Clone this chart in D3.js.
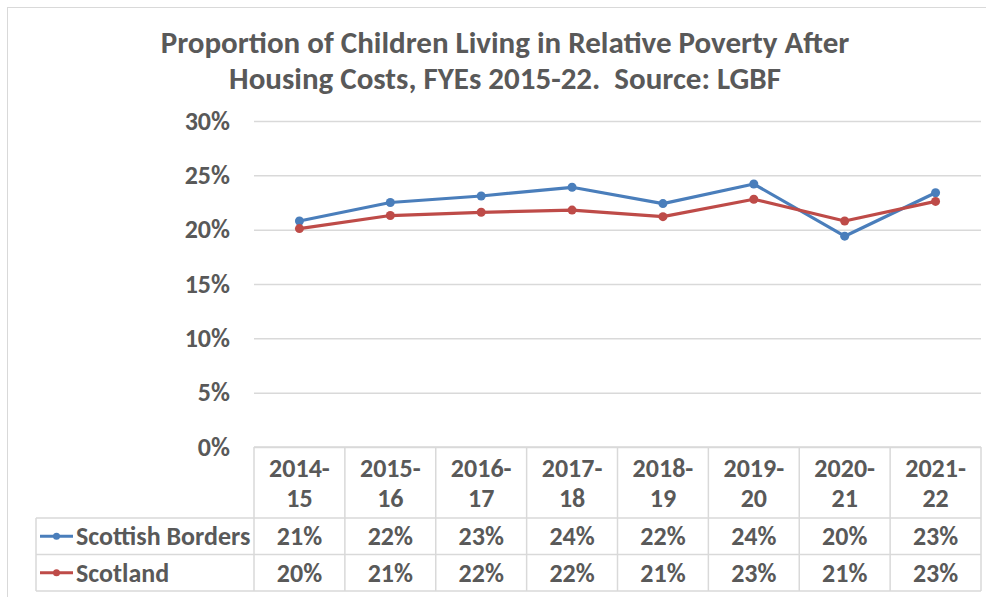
<!DOCTYPE html>
<html>
<head>
<meta charset="utf-8">
<script src="https://cdn.jsdelivr.net/npm/d3@7"></script>
<style>
  body { margin: 0; background: #fff; }
  svg text { font-family: Carlito, Lato, "Noto Sans", sans-serif; fill: #595959; font-weight: bold; white-space: pre; }
</style>
</head>
<body>
<div id="chart"></div>
<script>
// data
const periods = ["2014-15", "2015-16", "2016-17", "2017-18", "2018-19", "2019-20", "2020-21", "2021-22"];
const bordersValues = [20.8, 22.5, 23.1, 23.9, 22.4, 24.2, 19.4, 23.4];
const scotlandValues = [20.1, 21.3, 21.6, 21.8, 21.2, 22.8, 20.8, 22.6];
const bordersLabels = ["21%", "22%", "23%", "24%", "22%", "24%", "20%", "23%"];
const scotlandLabels = ["20%", "21%", "22%", "22%", "21%", "23%", "21%", "23%"];
const yTicks = [0, 5, 10, 15, 20, 25, 30];
const titleLines = ["Proportion of Children Living in Relative Poverty After", "Housing Costs, FYEs 2015-22.  Source: LGBF"];

const series = [
    { name: "Scottish Borders", values: bordersValues, labels: bordersLabels, color: "#4A7EBB" },
    { name: "Scotland", values: scotlandValues, labels: scotlandLabels, color: "#BE4B48" }
];

const FONT = "26px";

function main() {
    const W = 986, H = 597;
    const plot = { left: 254, right: 981, top: 121, bottom: 447 };
    const table = { left: 36, headerBottom: 518, rowH: 36.5 };
    const gridColor = "#d9d9d9";

    const svg = d3.select("#chart")
        .append("svg")
            .attr("width", W)
            .attr("height", H);

    // outer chart border
    svg.append("rect")
        .attr("x", 7.5).attr("y", 7.5)
        .attr("width", W).attr("height", H)
        .attr("fill", "none")
        .attr("stroke", gridColor);

    // title
    svg.append("g").selectAll("text")
        .data(titleLines)
        .enter().append("text")
            .attr("x", 505)
            .attr("y", (d, i) => 42 + i * 36)
            .attr("text-anchor", "middle")
            .attr("dominant-baseline", "central")
            .attr("font-size", "31px")
            .text(d => d);

    const x = d3.scaleBand()
        .domain(periods)
        .range([plot.left, plot.right]);

    const y = d3.scaleLinear()
        .domain([0, 30])
        .range([plot.bottom, plot.top]);

    // y axis with gridlines
    const yAxis = svg.append("g")
        .attr("transform", `translate(${plot.left}, 0)`)
        .call(d3.axisLeft(y)
            .tickValues(yTicks)
            .tickFormat(d => d + "%")
            .tickSize(-(plot.right - plot.left))
            .tickPadding(24));
    yAxis.select(".domain").remove();
    yAxis.selectAll("line").attr("stroke", gridColor).attr("stroke-width", 1.5);
    yAxis.selectAll("text")
        .attr("font-size", FONT)
        .attr("fill", "#595959")
        .attr("font-family", null);

    // lines + markers
    const line = d3.line()
        .x((d, i) => x(periods[i]) + x.bandwidth() / 2)
        .y(d => y(d));

    series.forEach(s => {
        svg.append("path")
            .datum(s.values)
            .attr("d", line)
            .attr("fill", "none")
            .attr("stroke", s.color)
            .attr("stroke-width", 3.2)
            .attr("stroke-linejoin", "round");

        svg.append("g").selectAll("circle")
            .data(s.values)
            .enter().append("circle")
                .attr("cx", (d, i) => x(periods[i]) + x.bandwidth() / 2)
                .attr("cy", d => y(d))
                .attr("r", 4.5)
                .attr("fill", s.color);
    });

    // data table
    const tbl = svg.append("g");
    const border = (x1, y1, x2, y2) => tbl.append("line")
        .attr("x1", x1).attr("y1", y1).attr("x2", x2).attr("y2", y2)
        .attr("stroke", gridColor).attr("stroke-width", 1.5);

    const rowTop = i => table.headerBottom + i * table.rowH;
    const tableBottom = rowTop(series.length);

    // horizontal lines
    border(plot.left, plot.bottom, plot.right, plot.bottom);
    for (let i = 0; i <= series.length; i++) border(table.left, rowTop(i), plot.right, rowTop(i));
    // vertical lines
    border(table.left, table.headerBottom, table.left, tableBottom);
    periods.forEach(p => border(x(p), plot.bottom, x(p), tableBottom));
    border(plot.right, plot.bottom, plot.right, tableBottom);

    // header labels, two lines each
    periods.forEach(p => {
        const parts = p.split("-");
        tbl.append("text")
            .attr("x", x(p) + x.bandwidth() / 2)
            .attr("y", 468)
            .attr("text-anchor", "middle")
            .attr("dominant-baseline", "central")
            .attr("font-size", FONT)
            .text(parts[0] + "-");
        tbl.append("text")
            .attr("x", x(p) + x.bandwidth() / 2)
            .attr("y", 498)
            .attr("text-anchor", "middle")
            .attr("dominant-baseline", "central")
            .attr("font-size", FONT)
            .text(parts[1]);
    });

    // series rows
    series.forEach((s, r) => {
        const cy = rowTop(r) + table.rowH / 2;
        tbl.append("line")
            .attr("x1", 40).attr("x2", 73)
            .attr("y1", cy).attr("y2", cy)
            .attr("stroke", s.color).attr("stroke-width", 3);
        tbl.append("circle")
            .attr("cx", 56.5).attr("cy", cy).attr("r", 3.5)
            .attr("fill", s.color);
        tbl.append("text")
            .attr("x", 76)
            .attr("y", cy)
            .attr("dominant-baseline", "central")
            .attr("font-size", FONT)
            .text(s.name);
        tbl.selectAll(null)
            .data(s.labels)
            .enter().append("text")
                .attr("x", (d, i) => x(periods[i]) + x.bandwidth() / 2)
                .attr("y", cy)
                .attr("text-anchor", "middle")
                .attr("dominant-baseline", "central")
                .attr("font-size", FONT)
                .text(d => d);
    });
}

main();
</script>
</body>
</html>
